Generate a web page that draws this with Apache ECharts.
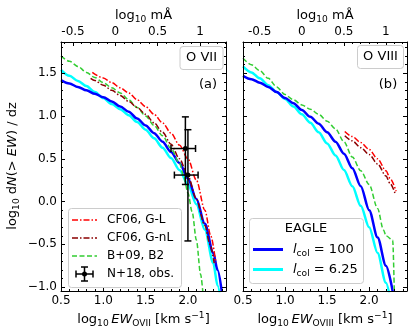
<!DOCTYPE html>
<html>
<head>
<meta charset="utf-8">
<script src="https://cdn.jsdelivr.net/npm/echarts@6/dist/echarts.min.js"></script>
<style>
  html, body { margin: 0; padding: 0; background: #fff; }
  #main { width: 415px; height: 336px; }
</style>
</head>
<body>
<div id="main"></div>
<script>
// ---- panel (a): O VII ----
const o7EagleX  = [0.5, 0.6, 0.7, 0.8, 0.9, 1.0, 1.1, 1.2, 1.3, 1.4, 1.5, 1.6, 1.7, 1.8, 1.9, 2.0, 2.1, 2.2, 2.3, 2.35, 2.4];
const o7Lcol100 = [1.42, 1.38, 1.34, 1.30, 1.26, 1.22, 1.17, 1.11, 1.05, 0.97, 0.89, 0.80, 0.70, 0.58, 0.45, 0.27, 0.03, -0.26, -0.60, -0.80, -1.05];
const o7Lcol625 = [1.54, 1.47, 1.41, 1.35, 1.28, 1.21, 1.14, 1.08, 1.01, 0.93, 0.84, 0.74, 0.63, 0.51, 0.37, 0.20, -0.03, -0.33, -0.72, -0.98, -1.25];
const o7B09X = [0.5, 0.6, 0.7, 0.8, 0.9, 1.0, 1.1, 1.2, 1.3, 1.4, 1.5, 1.6, 1.7, 1.8, 1.9, 1.95, 2.0, 2.05, 2.1, 2.15, 2.18];
const o7B09  = [1.70, 1.64, 1.58, 1.51, 1.45, 1.39, 1.33, 1.27, 1.19, 1.10, 1.00, 0.89, 0.77, 0.62, 0.45, 0.30, 0.10, -0.12, -0.45, -0.85, -1.10];
const o7GLX  = [0.87, 1.0, 1.1, 1.2, 1.3, 1.4, 1.5, 1.6, 1.7, 1.8, 1.9, 2.0, 2.1, 2.2, 2.27, 2.33];
const o7GL   = [1.51, 1.445, 1.39, 1.33, 1.27, 1.19, 1.11, 1.02, 0.92, 0.80, 0.66, 0.50, 0.25, -0.10, -0.40, -0.72];
const o7GnLX = [0.85, 0.9, 1.0, 1.1, 1.2, 1.3, 1.4, 1.5, 1.6, 1.7, 1.8, 1.9, 2.0, 2.1, 2.2, 2.26, 2.31];
const o7GnL  = [1.44, 1.415, 1.36, 1.30, 1.24, 1.17, 1.10, 1.02, 0.92, 0.81, 0.67, 0.50, 0.30, 0.03, -0.28, -0.50, -0.72];
// N+18 observations
const obsX   = [1.97, 2.00];
const obsXlo = [1.80, 1.84];
const obsXhi = [2.09, 2.12];
const obsY   = [0.62, 0.31];
const obsYlo = [0.20, -0.46];
const obsYhi = [0.99, 0.84];

// ---- panel (b): O VIII ----
const o8EagleX  = [0.5, 0.6, 0.7, 0.8, 0.9, 1.0, 1.1, 1.2, 1.3, 1.4, 1.5, 1.6, 1.7, 1.8, 1.9, 2.0, 2.1, 2.2, 2.28];
const o8Lcol100 = [1.47, 1.43, 1.39, 1.34, 1.28, 1.21, 1.15, 1.07, 0.99, 0.91, 0.81, 0.70, 0.56, 0.39, 0.18, -0.10, -0.42, -0.75, -1.05];
const o8Lcol625 = [1.58, 1.51, 1.44, 1.36, 1.28, 1.20, 1.11, 1.02, 0.92, 0.81, 0.68, 0.54, 0.37, 0.18, -0.05, -0.30, -0.60, -0.95, -1.30];
const o8B09X = [0.5, 0.6, 0.7, 0.8, 0.9, 1.0, 1.1, 1.2, 1.3, 1.4, 1.5, 1.6, 1.7, 1.8, 1.9, 2.0, 2.1, 2.17, 2.2, 2.28, 2.3];
const o8B09  = [1.675, 1.60, 1.53, 1.44, 1.34, 1.25, 1.19, 1.13, 1.08, 1.02, 0.94, 0.85, 0.70, 0.52, 0.36, 0.20, -0.08, -0.33, -0.40, -0.45, -1.10];
const o8GLX  = [1.71, 1.8, 1.9, 2.0, 2.1, 2.2, 2.25, 2.32];
const o8GL   = [0.82, 0.76, 0.69, 0.61, 0.50, 0.36, 0.27, 0.12];
const o8GnLX = [1.71, 1.8, 1.9, 2.0, 2.1, 2.2, 2.25, 2.31];
const o8GnL  = [0.77, 0.71, 0.63, 0.55, 0.44, 0.30, 0.21, 0.09];

// tick labels
const xTicks  = [0.5, 1.0, 1.5, 2.0];
const yTicks  = [-1.0, -0.5, 0.0, 0.5, 1.0, 1.5];
const mATicks = [-0.5, 0, 0.5, 1];

// log10 EW[mA] = log10 EW[km/s] + log10(lambda / c)
const shiftO7 = Math.log10(21.60e3 / 2.998e5);
const shiftO8 = Math.log10(18.97e3 / 2.998e5);

const X0 = 0.5, X1 = 2.45, Y0 = -1.045, Y1 = 1.865;
const FONT = 'DejaVu Sans';
const BLACK = '#000';

const minors = (lo, hi, majors) => {
  const out = [];
  for (let i = Math.ceil(lo * 10 - 1e-6); i <= Math.floor(hi * 10 + 1e-6); i++) {
    const v = i / 10;
    if (!majors.some(m => Math.abs(m - v) < 1e-6)) out.push(v);
  }
  return out;
};

function axis(g, pos, min, max, ticks, len, showLine, labels, fmt) {
  return {
    type: 'value', gridIndex: g, position: pos, min: min, max: max,
    axisLine: { show: showLine, onZero: false, lineStyle: { color: BLACK, width: 1 } },
    axisTick: { show: true, inside: true, length: len, customValues: ticks, lineStyle: { color: BLACK, width: 1 } },
    axisLabel: labels
      ? { show: true, customValues: labels, formatter: fmt, color: BLACK, fontSize: 12, fontFamily: FONT, margin: 4 }
      : { show: false },
    splitLine: { show: false },
    z: 5
  };
}

const fmtX = v => v.toFixed(1);
const fmtY = v => (v < 0 ? '\u2212' : '') + Math.abs(v).toFixed(1);
const fmtTop = v => (v === 0 ? '0' : v === 1 ? '1' : String(v));

const xAxes = [], yAxes = [];
[shiftO7, shiftO8].forEach((sh, g) => {
  xAxes.push(axis(g, 'bottom', X0, X1, xTicks, 4, true, xTicks, fmtX));
  xAxes.push(axis(g, 'bottom', X0, X1, minors(X0, X1, xTicks), 2, false));
  xAxes.push(axis(g, 'top', X0 + sh, X1 + sh, mATicks, 4, true, mATicks, fmtTop));
  xAxes.push(axis(g, 'top', X0 + sh, X1 + sh, minors(X0 + sh, X1 + sh, mATicks), 2, false));
  yAxes.push(axis(g, 'left', Y0, Y1, yTicks, 4, true, g === 0 ? yTicks : null, fmtY));
  yAxes.push(axis(g, 'left', Y0, Y1, minors(Y0, Y1, yTicks), 2, false));
  yAxes.push(axis(g, 'right', Y0, Y1, yTicks, 4, true));
  yAxes.push(axis(g, 'right', Y0, Y1, minors(Y0, Y1, yTicks), 2, false));
});

const DASHDOT = [6, 2, 1.5, 2];
const DASHED = [5, 2.5];

function line(g, name, xs, ys, color, width, type, z) {
  return {
    type: 'line', name: name, xAxisIndex: g * 4, yAxisIndex: g * 4,
    data: xs.map((x, i) => [x, ys[i]]),
    symbol: 'none', showSymbol: false, smooth: 0.3, smoothMonotone: 'x',
    lineStyle: { color: color, width: width, type: type, cap: 'butt' },
    clip: true, silent: true, z: z
  };
}

const series = [
  line(0, 'l_col = 6.25', o7EagleX, o7Lcol625, '#00ffff', 2.5, 'solid', 2),
  line(0, 'l_col = 100', o7EagleX, o7Lcol100, '#0000ff', 2.5, 'solid', 2),
  line(0, 'B+09, B2', o7B09X, o7B09, '#32cd32', 1.5, DASHED, 3),
  line(0, 'CF06, G-nL', o7GnLX, o7GnL, '#8b0000', 1.5, DASHDOT, 3),
  line(0, 'CF06, G-L', o7GLX, o7GL, '#ff0000', 1.5, DASHDOT, 3),
  {
    type: 'custom', name: 'N+18, obs.', xAxisIndex: 0, yAxisIndex: 0, z: 10, silent: true,
    data: obsX.map((x, i) => [x, obsY[i], obsXlo[i], obsXhi[i], obsYlo[i], obsYhi[i]]),
    encode: { x: 0, y: 1 },
    renderItem: (params, api) => {
      const c = api.coord([api.value(0), api.value(1)]);
      const l = api.coord([api.value(2), api.value(1)]);
      const r = api.coord([api.value(3), api.value(1)]);
      const b = api.coord([api.value(0), api.value(4)]);
      const t = api.coord([api.value(0), api.value(5)]);
      const cap = 3.5;
      const st = { stroke: BLACK, lineWidth: 1.5 };
      return {
        type: 'group',
        children: [
          { type: 'line', shape: { x1: l[0], y1: c[1], x2: r[0], y2: c[1] }, style: st },
          { type: 'line', shape: { x1: c[0], y1: b[1], x2: c[0], y2: t[1] }, style: st },
          { type: 'line', shape: { x1: l[0], y1: c[1] - cap, x2: l[0], y2: c[1] + cap }, style: st },
          { type: 'line', shape: { x1: r[0], y1: c[1] - cap, x2: r[0], y2: c[1] + cap }, style: st },
          { type: 'line', shape: { x1: c[0] - cap, y1: b[1], x2: c[0] + cap, y2: b[1] }, style: st },
          { type: 'line', shape: { x1: c[0] - cap, y1: t[1], x2: c[0] + cap, y2: t[1] }, style: st },
          { type: 'circle', shape: { cx: c[0], cy: c[1], r: 2.5 }, style: { fill: BLACK } }
        ]
      };
    }
  },
  line(1, 'l_col = 6.25', o8EagleX, o8Lcol625, '#00ffff', 2.5, 'solid', 2),
  line(1, 'l_col = 100', o8EagleX, o8Lcol100, '#0000ff', 2.5, 'solid', 2),
  line(1, 'B+09, B2', o8B09X, o8B09, '#32cd32', 1.5, DASHED, 3),
  line(1, 'CF06, G-nL', o8GnLX, o8GnL, '#8b0000', 1.5, DASHDOT, 3),
  line(1, 'CF06, G-L', o8GLX, o8GL, '#ff0000', 1.5, DASHDOT, 3)
];

// rich text pieces for the labels
const rich = size => ({
  a: { fontSize: size, fontFamily: FONT, fill: BLACK, lineHeight: size + 4 },
  i: { fontSize: size, fontFamily: FONT, fontStyle: 'italic', fill: BLACK, lineHeight: size + 4 },
  s: { fontSize: size * 0.7, fontFamily: FONT, fill: BLACK, lineHeight: size * 0.7, verticalAlign: 'bottom' },
  u: { fontSize: size * 0.7, fontFamily: FONT, fill: BLACK, lineHeight: size * 0.7, verticalAlign: 'top' }
});
const txt = (x, y, text, size, extra) => Object.assign({
  type: 'text', x: x, y: y, z: 100,
  style: { text: text, rich: rich(size), align: 'center', verticalAlign: 'middle', fontSize: size, fontFamily: FONT, fill: BLACK }
}, extra || {});
const box = (x, y, w, h) => ({
  type: 'rect', z: 90, shape: { x: x, y: y, width: w, height: h, r: 3 },
  style: { fill: 'rgba(255,255,255,0.85)', stroke: '#cccccc', lineWidth: 1 }
});
const seg = (x1, y1, x2, y2, color, w, dash) => ({
  type: 'line', z: 95, shape: { x1: x1, y1: y1, x2: x2, y2: y2 },
  style: { stroke: color, lineWidth: w, lineDash: dash || null }
});
const leftTxt = (x, y, text, size) => ({
  type: 'text', x: x, y: y, z: 100,
  style: { text: text, rich: rich(size), align: 'left', verticalAlign: 'middle', fontSize: size, fontFamily: FONT, fill: BLACK }
});

const graphic = [
  // axis titles
  txt(143.5, 16, '{a|log}{s|10}{a| mÅ}', 13),
  txt(325, 16, '{a|log}{s|10}{a| mÅ}', 13),
  txt(143.5, 320, '{a|log}{s|10}{a|\u2009}{i|EW}{s|OVII}{a| [km s}{u|\u22121}{a|]}', 13),
  txt(325, 320, '{a|log}{s|10}{a|\u2009}{i|EW}{s|OVIII}{a| [km s}{u|\u22121}{a|]}', 13),
  txt(13, 166, '{a|log}{s|10}{a| d}{i|N}{a|(> }{i|EW}{a|) / dz}', 13, { rotation: Math.PI / 2 }),
  // ion boxes and panel letters
  box(180, 46.5, 43, 23), txt(201.5, 58, '{a|O VII}', 13),
  txt(208, 85, '{a|(a)}', 13),
  box(357.5, 45.5, 46, 23), txt(380.5, 57, '{a|O VIII}', 13),
  txt(388, 85, '{a|(b)}', 13),
  // legend (a)
  box(68.5, 208.5, 113, 79),
  seg(72, 220, 97, 220, '#ff0000', 1.5, DASHDOT), leftTxt(107, 220, '{a|CF06, G-L}', 12),
  seg(72, 238, 97, 238, '#8b0000', 1.5, DASHDOT), leftTxt(107, 238, '{a|CF06, G-nL}', 12),
  seg(72, 256, 97, 256, '#32cd32', 1.5, DASHED), leftTxt(107, 256, '{a|B+09, B2}', 12),
  seg(76, 274, 93, 274, BLACK, 1.5), seg(84.5, 267, 84.5, 281, BLACK, 1.5),
  seg(76, 270.5, 76, 277.5, BLACK, 1.5), seg(93, 270.5, 93, 277.5, BLACK, 1.5),
  seg(81, 267, 88, 267, BLACK, 1.5), seg(81, 281, 88, 281, BLACK, 1.5),
  { type: 'circle', z: 96, shape: { cx: 84.5, cy: 274, r: 2.5 }, style: { fill: BLACK } },
  leftTxt(107, 274, '{a|N+18, obs.}', 12),
  // legend (b)
  box(249.5, 218.5, 114, 65),
  txt(306, 229, '{a|EAGLE}', 13),
  seg(253, 249.5, 283, 249.5, '#0000ff', 3), leftTxt(293, 249.5, '{i|l}{s|col}{a| = 100}', 13),
  seg(253, 269.5, 283, 269.5, '#00ffff', 3), leftTxt(293, 269.5, '{i|l}{s|col}{a| = 6.25}', 13)
];

const chart = echarts.init(document.getElementById('main'), null, { renderer: 'canvas' });
chart.setOption({
  animation: false,
  backgroundColor: '#fff',
  textStyle: { fontFamily: FONT },
  grid: [
    { left: 61, right: 189, top: 42, bottom: 45, containLabel: false, outerBoundsMode: 'none' },
    { left: 243, right: 8, top: 42, bottom: 45, containLabel: false, outerBoundsMode: 'none' }
  ],
  xAxis: xAxes,
  yAxis: yAxes,
  series: series,
  graphic: graphic
});
</script>
</body>
</html>
